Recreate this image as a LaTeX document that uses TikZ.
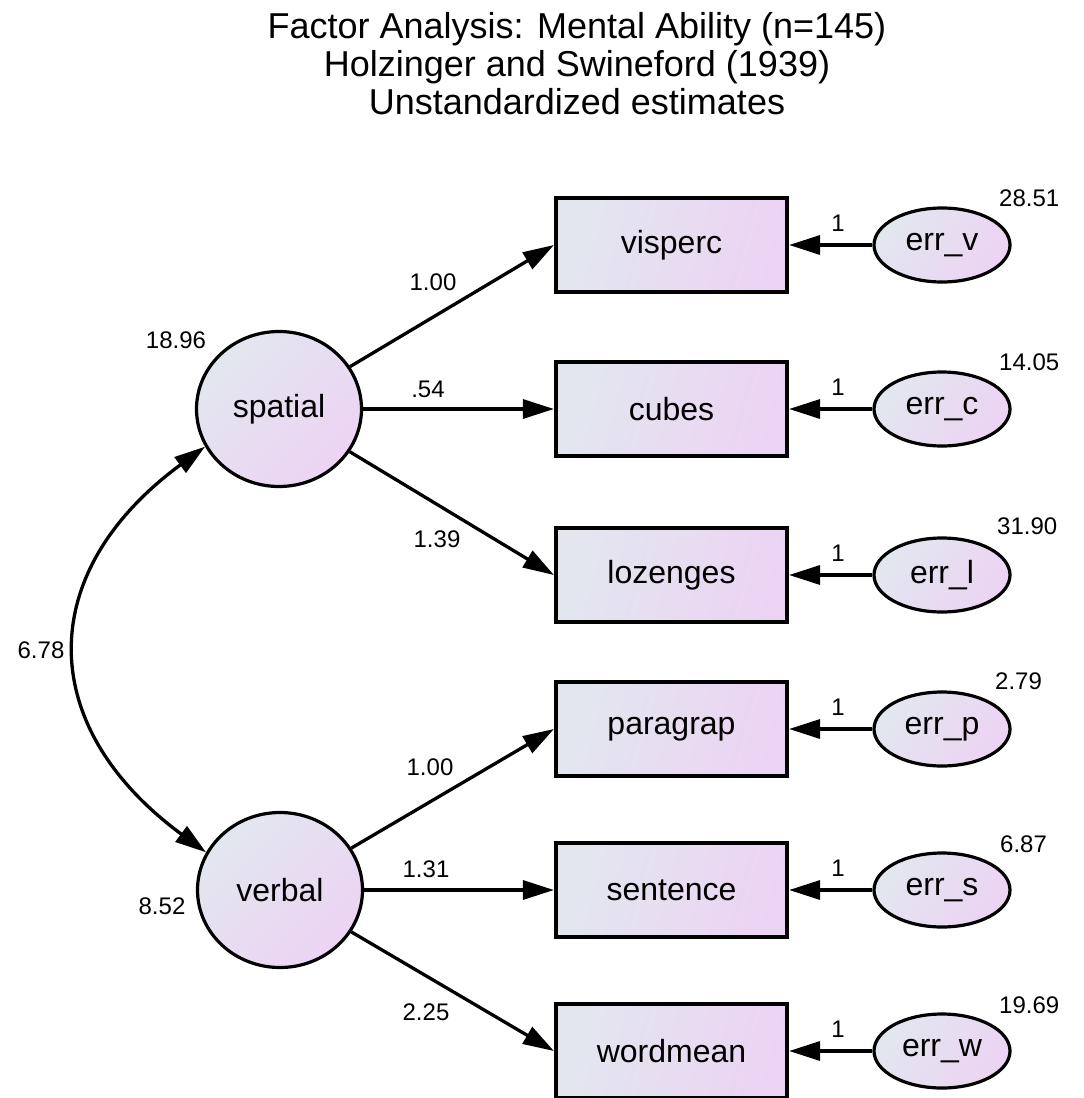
\documentclass[tikz,border=0pt]{standalone}
\usepackage{fontspec}
\setmainfont{Liberation Sans}
\usetikzlibrary{arrows.meta,shapes.geometric}
\definecolor{shadeA}{RGB}{226,231,238}
\definecolor{shadeB}{RGB}{236,211,244}
\begin{document}
\begin{tikzpicture}[x=1pt,y=-1pt,
  lab/.style={font=\fontsize{32}{38}\selectfont},
  num/.style={font=\fontsize{24}{28}\selectfont, inner sep=0pt},
  ttl/.style={font=\fontsize{36}{43}\selectfont, inner sep=0pt, anchor=base},
  latent/.style={ellipse, draw, line width=3.2pt, minimum width=165pt, minimum height=155pt,
    inner sep=0pt, top color=shadeA, bottom color=shadeB, shading angle=45, lab},
  observed/.style={rectangle, draw, line width=3.6pt, minimum width=231.5pt, minimum height=93.5pt,
    inner sep=0pt, top color=shadeA, bottom color=shadeB, shading angle=75, lab},
  errterm/.style={ellipse, draw, line width=3.2pt, minimum width=136pt, minimum height=74pt,
    inner sep=0pt, top color=shadeA, bottom color=shadeB, shading angle=55, lab},
  regpath/.style={line width=3.3pt, -{Triangle[length=31pt,width=19pt]}},
  covpath/.style={line width=3.3pt, {Triangle[length=31pt,width=19pt]}-{Triangle[length=31pt,width=19pt]}},
]
\useasboundingbox (0,0) rectangle (1084,1098);

% title
\node[ttl] (t1) at (577,38) {Factor Analysis: Mental Ability (n=145)};
\node[ttl] (t2) at (577,76) {Holzinger and Swineford (1939)};
\node[ttl] (t3) at (577,114) {Unstandardized estimates};

% latent factors
\node[latent] (spatial) at (279,409) {spatial};
\node[latent] (verbal) at (280,890) {verbal};

% observed variables
\node[observed] (visperc)  at (671.5,245)  {visperc};
\node[observed] (cubes)    at (671.5,409)  {cubes};
\node[observed] (lozenges) at (671.5,575)  {lozenges};
\node[observed] (paragrap) at (671.5,729)  {paragrap};
\node[observed] (sentence) at (671.5,890)  {sentence};
\node[observed] (wordmean) at (671.5,1051) {wordmean};

% error terms
\node[errterm] (errv) at (942,245)  {err\_v};
\node[errterm] (errc) at (942,409)  {err\_c};
\node[errterm] (errl) at (942,575)  {err\_l};
\node[errterm] (errp) at (942,729)  {err\_p};
\node[errterm] (errs) at (942,890)  {err\_s};
\node[errterm] (errw) at (942,1051) {err\_w};

% factor loadings
\draw[regpath] (spatial) -- (visperc.west);
\draw[regpath] (spatial) -- (cubes.west);
\draw[regpath] (spatial) -- (lozenges.west);
\draw[regpath] (verbal) -- (paragrap.west);
\draw[regpath] (verbal) -- (sentence.west);
\draw[regpath] (verbal) -- (wordmean.west);

% error paths
\foreach \e/\v in {errv/visperc, errc/cubes, errl/lozenges, errp/paragrap, errs/sentence, errw/wordmean}
  \draw[regpath] (\e) -- (\v);

% factor covariance
\draw[covpath] (spatial.207) .. controls +(-171,126) and +(-171,-126) .. (verbal.153);

% estimates
\node[num] (vs) at (176,340) {18.96};
\node[num] (vv) at (162,906) {8.52};
\node[num] (cv) at (41,650) {6.78};
\node[num] (l1) at (433,282) {1.00};
\node[num] (l2) at (428,389) {.54};
\node[num] (l3) at (437,539) {1.39};
\node[num] (l4) at (430,767) {1.00};
\node[num] (l5) at (426,869) {1.31};
\node[num] (l6) at (426,1012) {2.25};

\foreach \y/\n in {245/a, 409/b, 575/c, 729/d, 890/e, 1051/f}
  \node[num] (one\n) at (838,\y-22) {1};

\node[num, anchor=west] (ev) at (999,198)  {28.51};
\node[num, anchor=west] (ec) at (999,362)  {14.05};
\node[num, anchor=west] (el) at (997,526)  {31.90};
\node[num, anchor=west] (ep) at (995,681)  {2.79};
\node[num, anchor=west] (es) at (1000,844) {6.87};
\node[num, anchor=west] (ew) at (999,1005) {19.69};
\end{tikzpicture}
\end{document}
